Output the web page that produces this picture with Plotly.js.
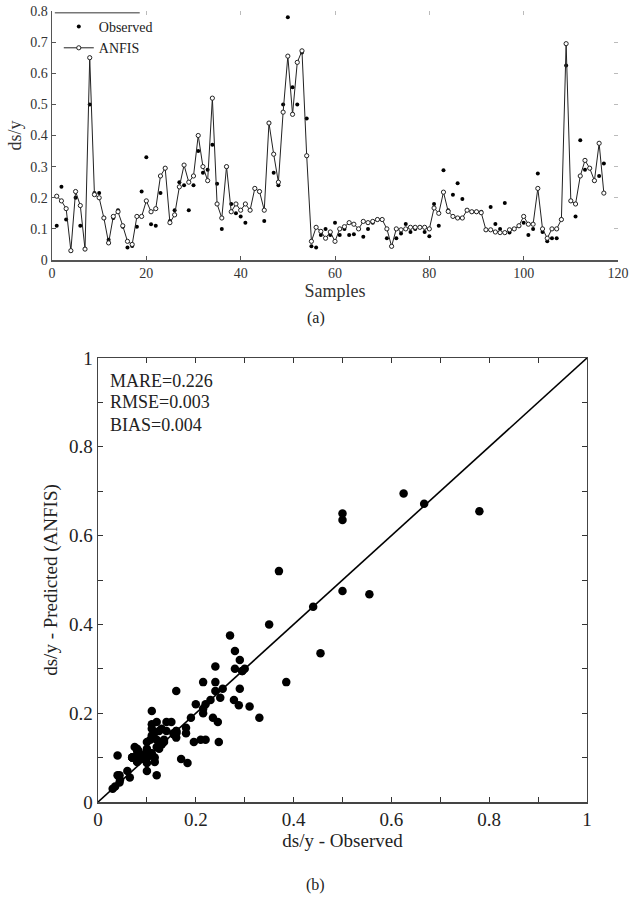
<!DOCTYPE html>
<html>
<head>
<meta charset="utf-8">
<script src="https://cdn.plot.ly/plotly-3.0.1.min.js"></script>
<style>html,body{margin:0;padding:0;background:#fff}#chart{width:633px;height:897px}</style>
</head>
<body>
<div id="chart"></div>
<script>
// Sample index 1..117
const samples = Array.from({length: 117}, (_, i) => i + 1);

// Observed ds/y
const observed = [
  0.11, 0.235, 0.13, 0.03, 0.2, 0.11, 0.035, 0.5, 0.215, 0.215,
  0.135, 0.065, 0.135, 0.16, 0.107, 0.04, 0.045, 0.107, 0.22, 0.33,
  0.115, 0.11, 0.215, 0.295, 0.125, 0.16, 0.25, 0.24, 0.16, 0.24,
  0.35, 0.28, 0.29, 0.37, 0.245, 0.1, 0.3, 0.18, 0.15, 0.14,
  0.12, 0.16, 0.23, 0.22, 0.125, 0.44, 0.28, 0.24, 0.5, 0.78,
  0.555, 0.5, 0.667, 0.455, 0.044, 0.04, 0.08, 0.1, 0.08, 0.12,
  0.08, 0.1, 0.08, 0.083, 0.1, 0.075, 0.1, 0.12, 0.13, 0.13,
  0.07, 0.044, 0.07, 0.085, 0.116, 0.09, 0.1, 0.105, 0.09, 0.076,
  0.18, 0.11, 0.288, 0.16, 0.21, 0.247, 0.196, 0.16, 0.155, 0.155,
  0.155, 0.097, 0.17, 0.116, 0.1, 0.183, 0.088, 0.1, 0.11, 0.12,
  0.08, 0.1, 0.278, 0.09, 0.06, 0.07, 0.07, 0.13, 0.625, 0.19,
  0.14, 0.385, 0.29, 0.295, 0.255, 0.27, 0.31
];

// ANFIS predicted ds/y
const anfis = [
  0.205, 0.19, 0.165, 0.03, 0.22, 0.175, 0.035, 0.65, 0.21, 0.2,
  0.135, 0.055, 0.14, 0.155, 0.11, 0.06, 0.05, 0.14, 0.14, 0.19,
  0.155, 0.165, 0.27, 0.295, 0.12, 0.145, 0.235, 0.305, 0.25, 0.27,
  0.40, 0.30, 0.255, 0.52, 0.18, 0.135, 0.30, 0.155, 0.18, 0.16,
  0.18, 0.16, 0.23, 0.22, 0.16, 0.44, 0.34, 0.25, 0.475, 0.655,
  0.468, 0.635, 0.672, 0.335, 0.06, 0.105, 0.092, 0.07, 0.09, 0.06,
  0.10, 0.107, 0.12, 0.115, 0.10, 0.124, 0.12, 0.124, 0.13, 0.13,
  0.10, 0.044, 0.10, 0.097, 0.10, 0.105, 0.105, 0.105, 0.105, 0.10,
  0.167, 0.15, 0.218, 0.156, 0.14, 0.135, 0.135, 0.16, 0.155, 0.155,
  0.152, 0.097, 0.097, 0.09, 0.088, 0.088, 0.097, 0.1, 0.11, 0.14,
  0.115, 0.115, 0.23, 0.1, 0.07, 0.1, 0.1, 0.13, 0.695, 0.19,
  0.18, 0.27, 0.32, 0.295, 0.255, 0.375, 0.215
];

const topXTicks = [0, 20, 40, 60, 80, 100, 120];
const topYTicks = [0, 0.1, 0.2, 0.3, 0.4, 0.5, 0.6, 0.7, 0.8];
const botTicks = [0, 0.2, 0.4, 0.6, 0.8, 1];
const identityLine = [0, 1];
const stats = ["MARE=0.226", "RMSE=0.003", "BIAS=0.004"];

const FONT = "Liberation Serif, Times New Roman, serif";

const traces = [
  {
    x: samples, y: observed, type: 'scatter', mode: 'markers', name: 'Observed',
    marker: {color: '#000', size: 4, symbol: 'circle'},
    xaxis: 'x', yaxis: 'y'
  },
  {
    x: samples, y: anfis, type: 'scatter', mode: 'lines+markers', name: 'ANFIS',
    line: {color: '#222', width: 1},
    marker: {color: '#fff', size: 4.2, symbol: 'circle', line: {color: '#222', width: 1}},
    xaxis: 'x', yaxis: 'y'
  },
  {
    x: [], y: [], type: 'scatter', mode: 'markers', showlegend: false, hoverinfo: 'skip',
    xaxis: 'x3', yaxis: 'y3'
  },
  {
    x: observed, y: anfis, type: 'scatter', mode: 'markers', showlegend: false,
    marker: {color: '#000', size: 8.5, symbol: 'circle'},
    xaxis: 'x2', yaxis: 'y2'
  },
  {
    x: identityLine, y: identityLine, type: 'scatter', mode: 'lines', showlegend: false,
    line: {color: '#000', width: 1.6},
    xaxis: 'x2', yaxis: 'y2'
  }
];

const topDomainY = [0.6852, 1];
const botDomainY = [0, 0.5613];
const botDomainX = [0.0813, 0.9452];

const layout = {
  width: 633, height: 897,
  margin: {l: 52, r: 15, t: 11, b: 95, autoexpand: false},
  paper_bgcolor: '#fff', plot_bgcolor: '#fff',
  font: {family: FONT, color: '#222'},
  showlegend: true,
  legend: {
    x: 0.012, y: 1.0, xanchor: 'left', yanchor: 'top',
    bgcolor: 'rgba(0,0,0,0)', borderwidth: 0,
    font: {family: FONT, size: 14, color: '#222'},
    itemwidth: 30, tracegroupgap: 0
  },
  xaxis: {
    domain: [0, 1], anchor: 'y', range: [0, 120], tickvals: topXTicks,
    ticks: 'inside', ticklen: 4, tickcolor: '#555', showline: true, linecolor: '#555', linewidth: 1.5,
    showgrid: false, zeroline: false, tickfont: {family: FONT, size: 14, color: '#333'},
    title: {text: 'Samples', font: {family: FONT, size: 18, color: '#333'}, standoff: 0}
  },
  yaxis: {
    domain: topDomainY, anchor: 'x', range: [0, 0.8], tickvals: topYTicks,
    ticks: 'inside', ticklen: 4, tickcolor: '#555', showline: true, linecolor: '#555', linewidth: 1.5,
    showgrid: false, zeroline: false, tickfont: {family: FONT, size: 14, color: '#333'},
    title: {text: 'ds/y', font: {family: FONT, size: 18, color: '#333'}, standoff: 4}
  },
  xaxis3: {
    overlaying: 'x', side: 'top', anchor: 'y3', range: [0, 120], tickvals: topXTicks,
    ticks: 'inside', ticklen: 4, tickcolor: '#bbb', showline: false, showticklabels: false,
    showgrid: false, zeroline: false
  },
  yaxis3: {
    overlaying: 'y', side: 'right', anchor: 'x3', range: [0, 0.8], tickvals: topYTicks,
    ticks: 'inside', ticklen: 4, tickcolor: '#bbb', showline: false, showticklabels: false,
    showgrid: false, zeroline: false
  },
  xaxis2: {
    domain: botDomainX, anchor: 'y2', range: [0, 1], tickvals: botTicks,
    ticks: 'inside', ticklen: 5, tickcolor: '#333', showline: true, linecolor: '#444', linewidth: 1.5,
    mirror: 'allticks', showgrid: false, zeroline: false,
    minor: {dtick: 0.1, tick0: 0, ticks: 'inside', ticklen: 5, tickcolor: '#333', showgrid: false},
    tickfont: {family: FONT, size: 19, color: '#222'},
    title: {text: 'ds/y - Observed', font: {family: FONT, size: 19, color: '#222'}, standoff: 2}
  },
  yaxis2: {
    domain: botDomainY, anchor: 'x2', range: [0, 1], tickvals: botTicks,
    ticks: 'inside', ticklen: 5, tickcolor: '#333', showline: true, linecolor: '#444', linewidth: 1.5,
    mirror: 'allticks', showgrid: false, zeroline: false,
    minor: {dtick: 0.1, tick0: 0, ticks: 'inside', ticklen: 5, tickcolor: '#333', showgrid: false},
    tickfont: {family: FONT, size: 19, color: '#222'},
    title: {text: 'ds/y - Predicted (ANFIS)', font: {family: FONT, size: 19, color: '#222'}, standoff: 6}
  },
  shapes: [
    {type: 'line', xref: 'x domain', yref: 'y domain', x0: 0.005, x1: 0.155, y0: 0.993, y1: 0.993,
     line: {color: '#777', width: 1.5}}
  ],
  annotations: [
    {text: '(a)', xref: 'paper', yref: 'paper', x: 0.4664, y: 0.6119, showarrow: false,
     xanchor: 'center', yanchor: 'middle', font: {family: FONT, size: 16, color: '#222'}},
    {text: '(b)', xref: 'paper', yref: 'paper', x: 0.4664, y: -0.1049, showarrow: false,
     xanchor: 'center', yanchor: 'middle', font: {family: FONT, size: 16, color: '#222'}},
    {text: stats[0], xref: 'x2 domain', yref: 'y2 domain', x: 0.02, y: 0.949, showarrow: false,
     xanchor: 'left', yanchor: 'middle', font: {family: FONT, size: 18, color: '#222'}},
    {text: stats[1], xref: 'x2 domain', yref: 'y2 domain', x: 0.02, y: 0.900, showarrow: false,
     xanchor: 'left', yanchor: 'middle', font: {family: FONT, size: 18, color: '#222'}},
    {text: stats[2], xref: 'x2 domain', yref: 'y2 domain', x: 0.02, y: 0.850, showarrow: false,
     xanchor: 'left', yanchor: 'middle', font: {family: FONT, size: 18, color: '#222'}}
  ]
};

Plotly.newPlot('chart', traces, layout, {staticPlot: true, displayModeBar: false});
</script>
</body>
</html>
